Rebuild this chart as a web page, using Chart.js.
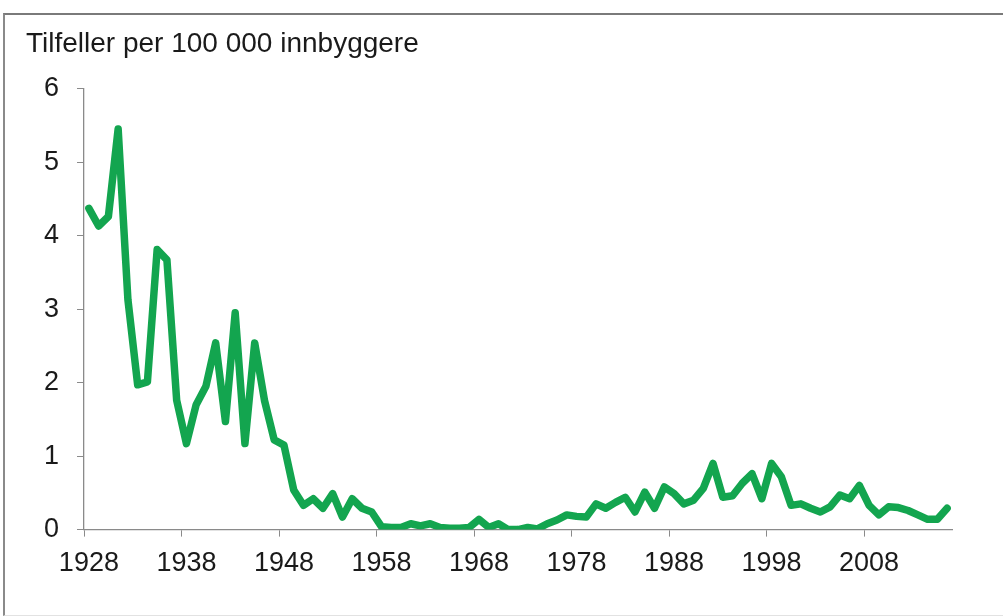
<!DOCTYPE html>
<html>
<head>
<meta charset="utf-8">
<script src="https://cdn.jsdelivr.net/npm/chart.js@4"></script>
<style>
  html, body { margin: 0; padding: 0; background: #fff; }
  #wrap { position: absolute; left: 0; top: 0; width: 1003px; height: 616px; }
  #frame {
    position: absolute; left: 3px; top: 13px; width: 1000px; height: 600px;
    border-top: 2px solid #7a7a7a; border-left: 2px solid #8a8a8a;
    border-bottom: 1px solid #e2e2e2; pointer-events: none;
  }
</style>
</head>
<body>
<div id="wrap"><canvas id="chart"></canvas></div>
<div id="frame"></div>
<script>
const title = "Tilfeller per 100 000 innbyggere";

const startYear = 1928;
const endYear = 2016;

// cases per 100 000
const cases = [
  4.37, 4.13, 4.26, 5.45, 3.13, 1.97, 2.01, 3.81, 3.67, 1.76, // 1928-1937
  1.17, 1.70, 1.95, 2.54, 1.47, 2.95, 1.17, 2.54, 1.76, 1.22, // 1938-1947
  1.15, 0.54, 0.33, 0.42, 0.29, 0.49, 0.17, 0.42, 0.29, 0.24, // 1948-1957
  0.04, 0.03, 0.03, 0.08, 0.05, 0.08, 0.03, 0.02, 0.02, 0.03, // 1958-1967
  0.14, 0.03, 0.08, 0.00, 0.00, 0.03, 0.01, 0.08, 0.13, 0.20, // 1968-1977
  0.18, 0.17, 0.35, 0.29, 0.37, 0.44, 0.24, 0.51, 0.29, 0.58, // 1978-1987
  0.49, 0.35, 0.40, 0.56, 0.90, 0.44, 0.46, 0.63, 0.76, 0.42, // 1988-1997
  0.90, 0.72, 0.33, 0.35, 0.29, 0.24, 0.31, 0.47, 0.42, 0.60, // 1998-2007
  0.33, 0.20, 0.31, 0.30, 0.26, 0.20, 0.14, 0.14, 0.29        // 2008-2016
];

const years = [];
for (let y = startYear; y <= endYear; y++) years.push(String(y));

const yMin = 0;
const yMax = 6;
const labelEvery = 10;

const axisGrey = "#8a8a8a";
const font = { family: "'Liberation Sans', Arial, sans-serif", size: 27, weight: "normal" };

new Chart(document.getElementById("chart"), {
  type: "line",
  data: {
    labels: years,
    datasets: [
      {
        data: cases,
        borderColor: "#13a54f",
        borderWidth: 7.5,
        borderJoinStyle: "round",
        borderCapStyle: "round",
        pointRadius: 0,
        tension: 0,
        fill: false,
      },
    ],
  },
  options: {
    responsive: true,
    maintainAspectRatio: false,
    animation: false,
    layout: { padding: { left: 26, right: 51, top: 10, bottom: 25 } },
    plugins: {
      legend: { display: false },
      tooltip: { enabled: false },
      title: {
        display: true,
        text: title,
        align: "start",
        color: "#1a1a1a",
        font: { ...font, size: 28 },
        padding: { top: 17, bottom: 28 },
      },
    },
    scales: {
      x: {
        type: "category",
        offset: true,
        grid: {
          offset: true,
          drawOnChartArea: false,
          tickLength: 7,
          color: (c) => (c.index % labelEvery === 0 ? axisGrey : "transparent"),
        },
        border: { color: axisGrey, width: 1.3 },
        ticks: {
          autoSkip: false,
          maxRotation: 0,
          padding: 11,
          color: "#1a1a1a",
          font: font,
          callback: function (val, i) {
            return i % labelEvery === 0 ? this.getLabelForValue(val) : "";
          },
        },
      },
      y: {
        min: yMin,
        max: yMax,
        grid: { drawOnChartArea: false, tickLength: 7, color: axisGrey },
        border: { color: axisGrey, width: 1.3 },
        ticks: { stepSize: 1, padding: 18, color: "#1a1a1a", font: font },
      },
    },
  },
});
</script>
</body>
</html>
